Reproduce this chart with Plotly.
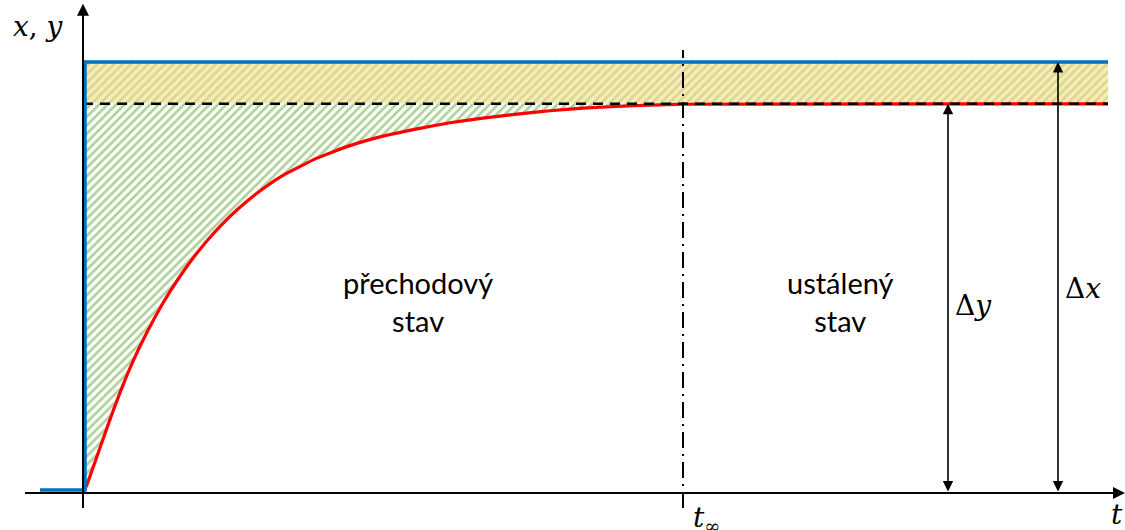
import plotly.graph_objects as go

# ---- data (time units, relative amplitude) ----
t_step = [-0.43, 0.02, 0.02, 10.25]
x_step = [0.007, 0.007, 1.0, 1.0]

t_curve = [0, 0.04, 0.17, 0.30, 0.47, 0.64, 0.80, 0.97, 1.14, 1.30, 1.47, 1.64,
           1.80, 2.00, 2.34, 2.67, 3.00, 3.34, 3.67, 4.00, 4.34, 4.67, 5.00,
           5.34, 5.67, 6.00, 10.25]
y_curve = [0, 0.020, 0.105, 0.190, 0.290, 0.373, 0.441, 0.503, 0.557, 0.601,
           0.642, 0.677, 0.706, 0.737, 0.777, 0.806, 0.828, 0.845, 0.859, 0.870,
           0.879, 0.887, 0.893, 0.897, 0.900, 0.902, 0.903]

y_inf = 0.903
x_inf = 1.0
t_inf = 6.0
t_end = 10.25
t_dy = 8.65
t_dx = 9.75

labels_regions = ["přechodový<br>stav", "ustálený<br>stav"]
label_pos_t = [3.35, 7.57]
label_pos_v = [0.445, 0.445]

X_RANGE = [-0.83, 10.42]
Y_RANGE = [-0.0858, 1.1439]

fig = go.Figure()

# yellow hatched band between steady output and input
fig.add_trace(go.Scatter(
    x=[0, t_end, t_end, 0, 0], y=[y_inf, y_inf, x_inf, x_inf, y_inf],
    fill="toself", mode="lines", line=dict(width=0),
    fillcolor="rgba(0,0,0,0)",
    fillpattern=dict(shape="/", fgcolor="#b8c26e", bgcolor="#f8edb8",
                     size=6, solidity=0.45),
    hoverinfo="skip", showlegend=False))

# green hatched area between curve and steady value (transient)
gx = [t for t in t_curve if t <= t_inf]
gy = y_curve[:len(gx)]
fig.add_trace(go.Scatter(
    x=gx + [t_inf, 0, 0], y=gy + [y_inf, y_inf, 0],
    fill="toself", mode="lines", line=dict(width=0),
    fillcolor="rgba(0,0,0,0)",
    fillpattern=dict(shape="/", fgcolor="#5ea336", bgcolor="white",
                     size=6, solidity=0.45),
    hoverinfo="skip", showlegend=False))

# red response
fig.add_trace(go.Scatter(x=t_curve, y=y_curve, mode="lines",
                         line=dict(color="#ff0000", width=3.2, shape="spline", smoothing=0.4),
                         hoverinfo="skip", showlegend=False))

# dashed steady-state line
fig.add_trace(go.Scatter(x=[0, t_end], y=[y_inf, y_inf], mode="lines",
                         line=dict(color="black", width=2.5, dash="10px,7px"),
                         hoverinfo="skip", showlegend=False))

# blue step input
fig.add_trace(go.Scatter(x=t_step, y=x_step, mode="lines",
                         line=dict(color="#0070c0", width=3.5),
                         hoverinfo="skip", showlegend=False))

# axes lines (drawn as data lines)
fig.add_trace(go.Scatter(x=[-0.58, 10.38], y=[0, 0], mode="lines",
                         line=dict(color="black", width=2),
                         hoverinfo="skip", showlegend=False))
fig.add_trace(go.Scatter(x=[0, 0], y=[-0.035, 1.105], mode="lines",
                         line=dict(color="black", width=2),
                         hoverinfo="skip", showlegend=False))

# dash-dot t_inf line
fig.add_trace(go.Scatter(x=[t_inf, t_inf], y=[-0.035, 1.028], mode="lines",
                         line=dict(color="black", width=2, dash="16px,6px,2px,6px"),
                         hoverinfo="skip", showlegend=False))

ann = []
# axis arrowheads
ann.append(dict(x=10.42, y=0, ax=10.2, ay=0, xref="x", yref="y", axref="x", ayref="y",
                showarrow=True, arrowhead=2, arrowsize=1.2, arrowwidth=2, arrowcolor="black",
                text=""))
ann.append(dict(x=0, y=1.135, ax=0, ay=1.0, xref="x", yref="y", axref="x", ayref="y",
                showarrow=True, arrowhead=2, arrowsize=1.2, arrowwidth=2, arrowcolor="black",
                text=""))
# double arrows
for tt, top in [(t_dy, y_inf), (t_dx, x_inf)]:
    ann.append(dict(x=tt, y=top, ax=tt, ay=0, xref="x", yref="y", axref="x", ayref="y",
                    showarrow=True, arrowhead=2, startarrowhead=2, arrowside="end+start",
                    arrowsize=1.3, startarrowsize=1.3, arrowwidth=1.6, arrowcolor="black",
                    text=""))

# texts
for txt, tx, ty in zip(labels_regions, label_pos_t, label_pos_v):
    ann.append(dict(x=tx, y=ty, xref="x", yref="y", text=txt, showarrow=False,
                    font=dict(family="Lato", size=29, color="black"), align="center"))

math_font = dict(family="DejaVu Serif", size=28, color="black")
ann.append(dict(x=-0.45, y=1.083, xref="x", yref="y", text="<i>x</i>, <i>y</i>",
                showarrow=False, font=math_font))
ann.append(dict(x=t_dy + 0.05, y=0.435, xref="x", yref="y", text="Δ<i>y</i>",
                showarrow=False, font=math_font, xanchor="left"))
ann.append(dict(x=t_dx + 0.05, y=0.475, xref="x", yref="y", text="Δ<i>x</i>",
                showarrow=False, font=math_font, xanchor="left"))
ann.append(dict(x=t_inf + 0.08, y=-0.062, xref="x", yref="y",
                text="<i>t</i><sub>∞</sub>", showarrow=False, font=math_font,
                xanchor="left"))
ann.append(dict(x=10.34, y=-0.05, xref="x", yref="y", text="<i>t</i>",
                showarrow=False, font=math_font, xanchor="center"))

fig.update_layout(
    width=1125, height=530,
    margin=dict(l=0, r=0, t=0, b=0),
    paper_bgcolor="white", plot_bgcolor="white",
    xaxis=dict(range=X_RANGE, visible=False, fixedrange=True),
    yaxis=dict(range=Y_RANGE, visible=False, fixedrange=True),
    annotations=ann,
    showlegend=False,
)

fig.write_html("out.html")
